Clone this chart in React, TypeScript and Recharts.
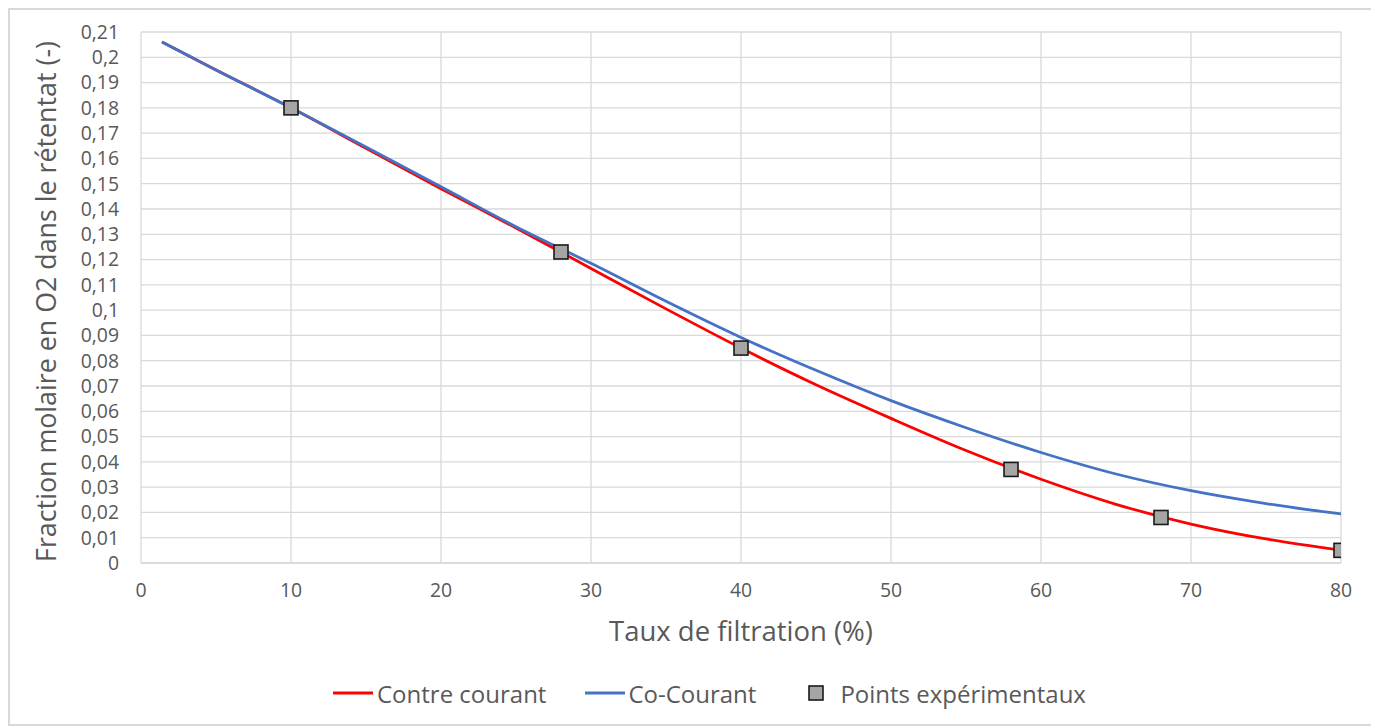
import {
  CartesianGrid,
  ComposedChart,
  Legend,
  Line,
  Scatter,
  XAxis,
  YAxis,
} from "recharts";

// Taux de filtration (%) — abscisses des courbes modélisées
const tauxFiltration = [1.4, 5, 10, 15, 20, 25, 30, 35, 40, 45, 50, 55, 60, 65, 70, 75, 80];
const contreCourant = [
  0.206, 0.195, 0.18, 0.164, 0.148, 0.1325, 0.1165, 0.1005, 0.085, 0.0705, 0.0572, 0.0445, 0.0331,
  0.0232, 0.0154, 0.0095, 0.0051,
];
const coCourant = [
  0.206, 0.195, 0.18, 0.1645, 0.1488, 0.133, 0.1185, 0.1035, 0.0892, 0.0762, 0.0642, 0.0535,
  0.0437, 0.0352, 0.0286, 0.0235, 0.0194,
];

// Points expérimentaux
const expX = [10, 28, 40, 58, 68, 80];
const expY = [0.18, 0.123, 0.085, 0.037, 0.018, 0.005];

const xTicks = [0, 10, 20, 30, 40, 50, 60, 70, 80];
const yTicks = Array.from({ length: 22 }, (_, i) => i / 100);

const FONT = "'Open Sans', sans-serif";
const GREY_TEXT = "#595959";
const GRID = "#D9D9D9";

const contreData = tauxFiltration.map((x, i) => ({ x, y: contreCourant[i] }));
const coData = tauxFiltration.map((x, i) => ({ x, y: coCourant[i] }));
const expData = expX.map((x, i) => ({ x, y: expY[i] }));

const fmtComma = (v: number) => String(Math.round(v * 100) / 100).replace(".", ",");

function SquareMarker(props: any) {
  const { cx, cy } = props;
  if (cx == null || cy == null) return null;
  return (
    <rect x={cx - 7} y={cy - 7} width={14} height={14} fill="#A5A5A5" stroke="#1a1a1a" strokeWidth={1.6} />
  );
}

function ExcelLegend() {
  const text = { fontFamily: FONT, fontSize: 24, color: GREY_TEXT, whiteSpace: "nowrap" as const };
  return (
    <div style={{ display: "flex", alignItems: "center", height: 30 }}>
      <svg width={40} height={6}>
        <line x1={0} y1={3} x2={40} y2={3} stroke="#FF0000" strokeWidth={3} />
      </svg>
      <span style={{ ...text, marginLeft: 4 }}>Contre courant</span>
      <svg width={40} height={6} style={{ marginLeft: 39 }}>
        <line x1={0} y1={3} x2={40} y2={3} stroke="#4472C4" strokeWidth={3} />
      </svg>
      <span style={{ ...text, marginLeft: 3 }}>Co-Courant</span>
      <svg width={16} height={16} style={{ marginLeft: 52 }}>
        <rect x={1} y={1} width={14} height={14} fill="#A5A5A5" stroke="#1a1a1a" strokeWidth={1.6} />
      </svg>
      <span style={{ ...text, marginLeft: 16 }}>Points expérimentaux</span>
    </div>
  );
}

export default function App() {
  return (
    <div
      style={{
        width: 1365,
        height: 718,
        border: `2px solid ${GRID}`,
        boxSizing: "border-box",
        background: "#fff",
        position: "relative",
      }}
    >
      <ComposedChart width={1361} height={714} margin={{ top: 22, right: 30, left: 0, bottom: 27 }}>
        <CartesianGrid stroke={GRID} strokeWidth={1.3} />
        <XAxis
          type="number"
          dataKey="x"
          domain={[0, 80]}
          ticks={xTicks}
          allowDataOverflow
          height={134}
          tickSize={0}
          tickMargin={20}
          axisLine={{ stroke: GRID, strokeWidth: 1.5 }}
          tick={{ fill: GREY_TEXT, fontFamily: FONT, fontSize: 19.4 }}
          label={{
            value: "Taux de filtration (%)",
            position: "center",
            dy: 1,
            style: { fill: GREY_TEXT, fontFamily: FONT, fontSize: 27.5 },
          }}
        />
        <YAxis
          type="number"
          dataKey="y"
          domain={[0, 0.21]}
          ticks={yTicks}
          interval={0}
          allowDataOverflow
          width={131}
          tickSize={0}
          tickMargin={22}
          axisLine={false}
          tickFormatter={fmtComma}
          tick={{ fill: GREY_TEXT, fontFamily: FONT, fontSize: 19.4 }}
          label={{
            value: "Fraction molaire en O2 dans le rétentat (-)",
            angle: -90,
            position: "center",
            dx: -29,
            dy: 4,
            style: { fill: GREY_TEXT, fontFamily: FONT, fontSize: 26.8, textAnchor: "middle" },
          }}
        />
        <Line
          data={contreData}
          dataKey="y"
          name="Contre courant"
          type="monotone"
          stroke="#FF0000"
          strokeWidth={2.8}
          dot={false}
          activeDot={false}
          isAnimationActive={false}
        />
        <Line
          data={coData}
          dataKey="y"
          name="Co-Courant"
          type="monotone"
          stroke="#4472C4"
          strokeWidth={2.8}
          dot={false}
          activeDot={false}
          isAnimationActive={false}
        />
        <Scatter
          data={expData}
          dataKey="y"
          name="Points expérimentaux"
          shape={<SquareMarker />}
          isAnimationActive={false}
        />
        <Legend
          verticalAlign="middle"
          content={() => <ExcelLegend />}
          wrapperStyle={{ top: 668, left: 323, width: "auto" }}
        />
      </ComposedChart>
    </div>
  );
}
